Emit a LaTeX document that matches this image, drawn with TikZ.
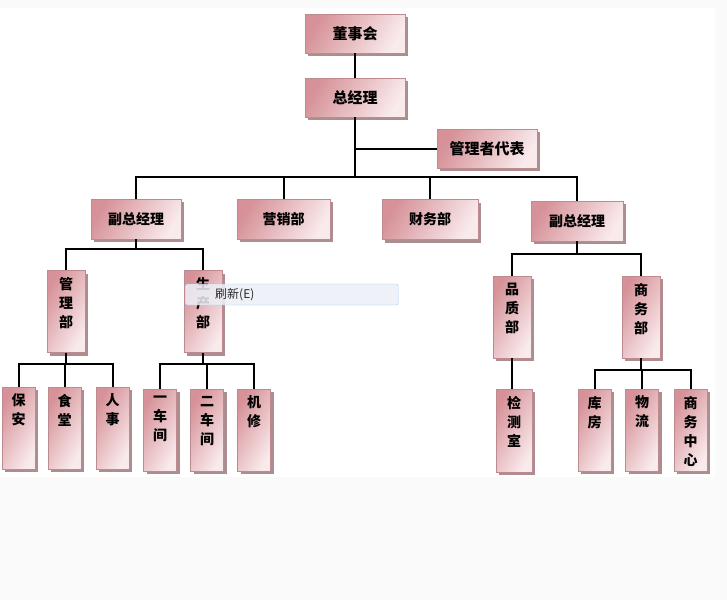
\documentclass[tikz,border=0pt]{standalone}
\usepackage{fontspec}
\newfontfamily\cjk{Noto Sans CJK SC}
\usepackage{xcolor}
\usepackage{tikz}
\usetikzlibrary{shadows, calc}

\definecolor{boxdark}{RGB}{214,146,152}
\definecolor{boxlight}{RGB}{249,234,236}
\definecolor{boxedge}{RGB}{188,138,143}
\definecolor{boxshade}{RGB}{172,142,144}
\definecolor{pagegray}{RGB}{250,250,250}
\definecolor{menufill}{RGB}{236,240,247}
\definecolor{menuedge}{RGB}{166,200,236}
\definecolor{menutext}{RGB}{40,40,40}

% vertical text, kept at the top of a tall box
\newcommand{\coltext}[1]{\parbox[c][68pt][t]{16pt}{\centering #1}}

\begin{document}
\begin{tikzpicture}[
        x=1pt, y=-1pt,
        orgbox/.style={rectangle, draw=boxedge, line width=0.6pt, left color=boxdark, right color=boxlight, shading angle=60,
            drop shadow={shadow xshift=3pt, shadow yshift=-3pt, fill=boxshade, opacity=1},
            font=\cjk\bfseries\fontsize{14}{19}\selectfont, align=center, inner sep=0pt},
        topbox/.style={orgbox, minimum width=100pt, minimum height=39pt, font=\cjk\bfseries\fontsize{15}{19}\selectfont},
        midbox/.style={orgbox, minimum height=40pt},
        deptbox/.style={orgbox, minimum width=38pt, minimum height=82pt, font=\cjk\bfseries\fontsize{14}{19}\selectfont},
        unitbox/.style={deptbox, minimum width=33pt},
        link/.style={line width=2pt, black},
        menubox/.style={rectangle, rounded corners=2pt, draw=menuedge, fill=menufill, fill opacity=0.85, text opacity=1,
            minimum height=21pt, text width=213pt, inner xsep=0pt, align=left, text=menutext, font=\cjk\fontsize{12}{14}\selectfont}
    ]
        % page
        \fill[pagegray] (0,0) rectangle (727,600);
        \fill[white] (0,8) rectangle (715,477);
        \useasboundingbox (0,0) rectangle (727,600);

        % top
        \node[topbox] (board) at (355,33.5) {董事会};
        \node[topbox] (gm) at (355,97.5) {总经理};
        \node[topbox] (rep) at (487,148.5) {管理者代表};

        % second level
        \node[midbox, minimum width=90pt] (vpa) at (136,219) {副总经理};
        \node[midbox, minimum width=93pt] (sales) at (283.5,219) {营销部};
        \node[midbox, minimum width=96pt] (fin) at (430,219.5) {财务部};
        \node[midbox, minimum width=92pt] (vpb) at (577,221) {副总经理};

        % departments
        \node[deptbox] (mgmt) at (66,311.5) {\coltext{管\\理\\部}};
        \node[deptbox] (prod) at (203,311.5) {\coltext{生\\产\\部}};
        \node[deptbox] (qc) at (512,317) {\coltext{品\\质\\部}};
        \node[deptbox] (biz) at (641,317) {\coltext{商\\务\\部}};

        % units
        \node[unitbox] (guard) at (18.5,428) {\coltext{保\\安}};
        \node[unitbox] (canteen) at (64.5,428) {\coltext{食\\堂}};
        \node[unitbox] (hr) at (112.5,428) {\coltext{人\\事}};
        \node[unitbox] (shopa) at (160,430) {\coltext{一\\车\\间}};
        \node[unitbox] (shopb) at (207,430) {\coltext{二\\车\\间}};
        \node[unitbox] (repair) at (254,430) {\coltext{机\\修}};
        \node[unitbox, minimum width=36pt, minimum height=83pt] (lab) at (514,430.5) {\coltext{检\\测\\室}};
        \node[unitbox] (store) at (594.5,430) {\coltext{库\\房}};
        \node[unitbox] (logi) at (642,430) {\coltext{物\\流}};
        \node[unitbox] (bizc) at (690.5,430) {\coltext{商\\务\\中\\心}};

        % bus levels
        \coordinate (busa) at (355,177);
        \coordinate (busb) at (136,249);
        \coordinate (busc) at (577,254);
        \coordinate (busd) at (66,364);
        \coordinate (buse) at (203,364);
        \coordinate (busf) at (641,370);

        % connectors
        \draw[link] (board) -- (gm);
        \draw[link] (gm.south) |- (rep.west);
        \draw[link] (gm.south) -- (busa);
        \draw[link] (vpa.north) |- (busa) -| (vpb.north);
        \draw[link] (sales.north) -- (sales.north |- busa);
        \draw[link] (fin.north) -- (fin.north |- busa);

        \draw[link] (vpa.south) -- (busb);
        \draw[link] (mgmt.north) |- (busb) -| (prod.north);
        \draw[link] (vpb.south) -- (busc);
        \draw[link] (qc.north) |- (busc) -| (biz.north);

        \draw[link] (mgmt.south) -- (busd);
        \draw[link] (guard.north) |- (busd) -| (hr.north);
        \draw[link] (canteen.north) -- (canteen.north |- busd);
        \draw[link] (prod.south) -- (buse);
        \draw[link] (shopa.north) |- (buse) -| (repair.north);
        \draw[link] (shopb.north) -- (shopb.north |- buse);
        \draw[link] (qc.south) -- (qc.south |- lab.north);
        \draw[link] (biz.south) -- (busf);
        \draw[link] (store.north) |- (busf) -| (bizc.north);
        \draw[link] (logi.north) -- (logi.north |- busf);

        % context menu over the picture
        \node[menubox, anchor=west] (menu) at (185,294.5) {\hspace*{30pt}刷新(E)};
    \end{tikzpicture}
\end{document}
